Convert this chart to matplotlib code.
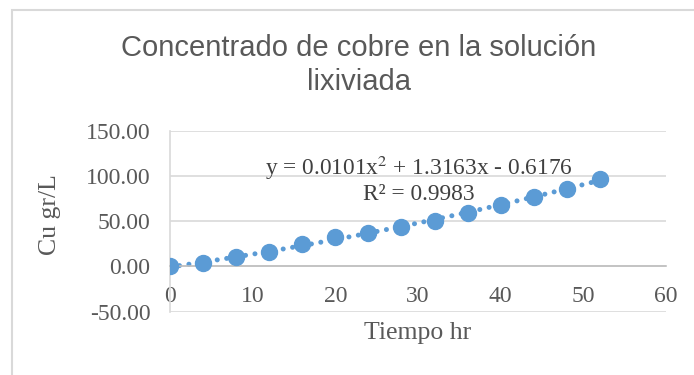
import numpy as np
import matplotlib
matplotlib.use("Agg")
import matplotlib.pyplot as plt
from matplotlib.patches import Rectangle

# datos
tiempo = [0, 4, 8, 12, 16, 20, 24, 28, 32, 36, 40, 44, 48, 52]
cobre = [0.0, 3.3, 10.3, 16.5, 24.3, 32.4, 37.5, 43.4, 50.7, 58.8, 67.6, 76.8, 86.0, 96.3]
coef = [0.0101, 1.3163, -0.6176]  # ajuste polinomico
xticks = [0, 10, 20, 30, 40, 50, 60]
yticks = [-50, 0, 50, 100, 150]

azul = "#5b9bd5"
gris = "#595959"
serif = "Liberation Serif"

fig = plt.figure(figsize=(6.94, 3.75), dpi=100)
ax = fig.add_axes([170 / 694, 1 - 311.7 / 375, (666 - 170) / 694, (311.7 - 130.7) / 375])

# borde del area del grafico
fig.patches.append(Rectangle((12 / 694, -0.2), 1.2, 1.2 - 10 / 375,
                             transform=fig.transFigure, fill=False,
                             edgecolor="#d9d9d9", lw=1.5))

xt = np.linspace(0, 52, 200)
ax.plot(xt, np.polyval(coef, xt), color=azul, lw=3.6, linestyle=(0, (0.01, 1.9)),
        dash_capstyle="round", zorder=2)
ax.plot(tiempo, cobre, "o", color=azul, ms=11.5, zorder=3)

ax.set_xlim(0, 60)
ax.set_ylim(-50, 150)
ax.set_xticks(xticks)
ax.set_yticks(yticks)
ax.set_yticklabels([f"{v:.2f}" for v in yticks])
ax.yaxis.grid(True, color="#d9d9d9", lw=1.2)
ax.set_axisbelow(True)
for s in ["top", "right"]:
    ax.spines[s].set_visible(False)
ax.spines["bottom"].set_position(("data", 0))
ax.spines["bottom"].set_color("#bfbfbf")
ax.spines["left"].set_color("#d9d9d9")
ax.spines["bottom"].set_linewidth(1.2)
ax.spines["left"].set_linewidth(1.2)
ax.tick_params(length=0, labelcolor=gris, labelsize=17)
ax.tick_params(axis="x", pad=14)
ax.tick_params(axis="y", pad=14)
for lab in ax.get_xticklabels() + ax.get_yticklabels():
    lab.set_fontfamily(serif)

fig.text(418 / 694, 1 - 333 / 375, "Tiempo hr", ha="center", va="center",
         fontsize=18.5, color=gris, family=serif)
fig.text(50 / 694, 1 - 215 / 375, "Cu gr/L", ha="center", va="center",
         rotation=90, fontsize=18.5, color=gris, family=serif)

fig.text(419 / 694, 1 - 168 / 375, "y = 0.0101x$^{2}$ + 1.3163x - 0.6176",
         ha="center", va="center", fontsize=16.8, color="#404040", family=serif,
         math_fontfamily="stix")
fig.text(419 / 694, 1 - 195 / 375, "R² = 0.9983", ha="center", va="center",
         fontsize=16.8, color="#404040", family=serif)

fig.text(359 / 694, 1 - 65 / 375, "Concentrado de cobre en la solución\nlixiviada",
         ha="center", va="center", fontsize=21, color=gris,
         family=["Liberation Sans Narrow", "Liberation Sans"], linespacing=1.25)

fig.savefig("out.png", dpi=100)
